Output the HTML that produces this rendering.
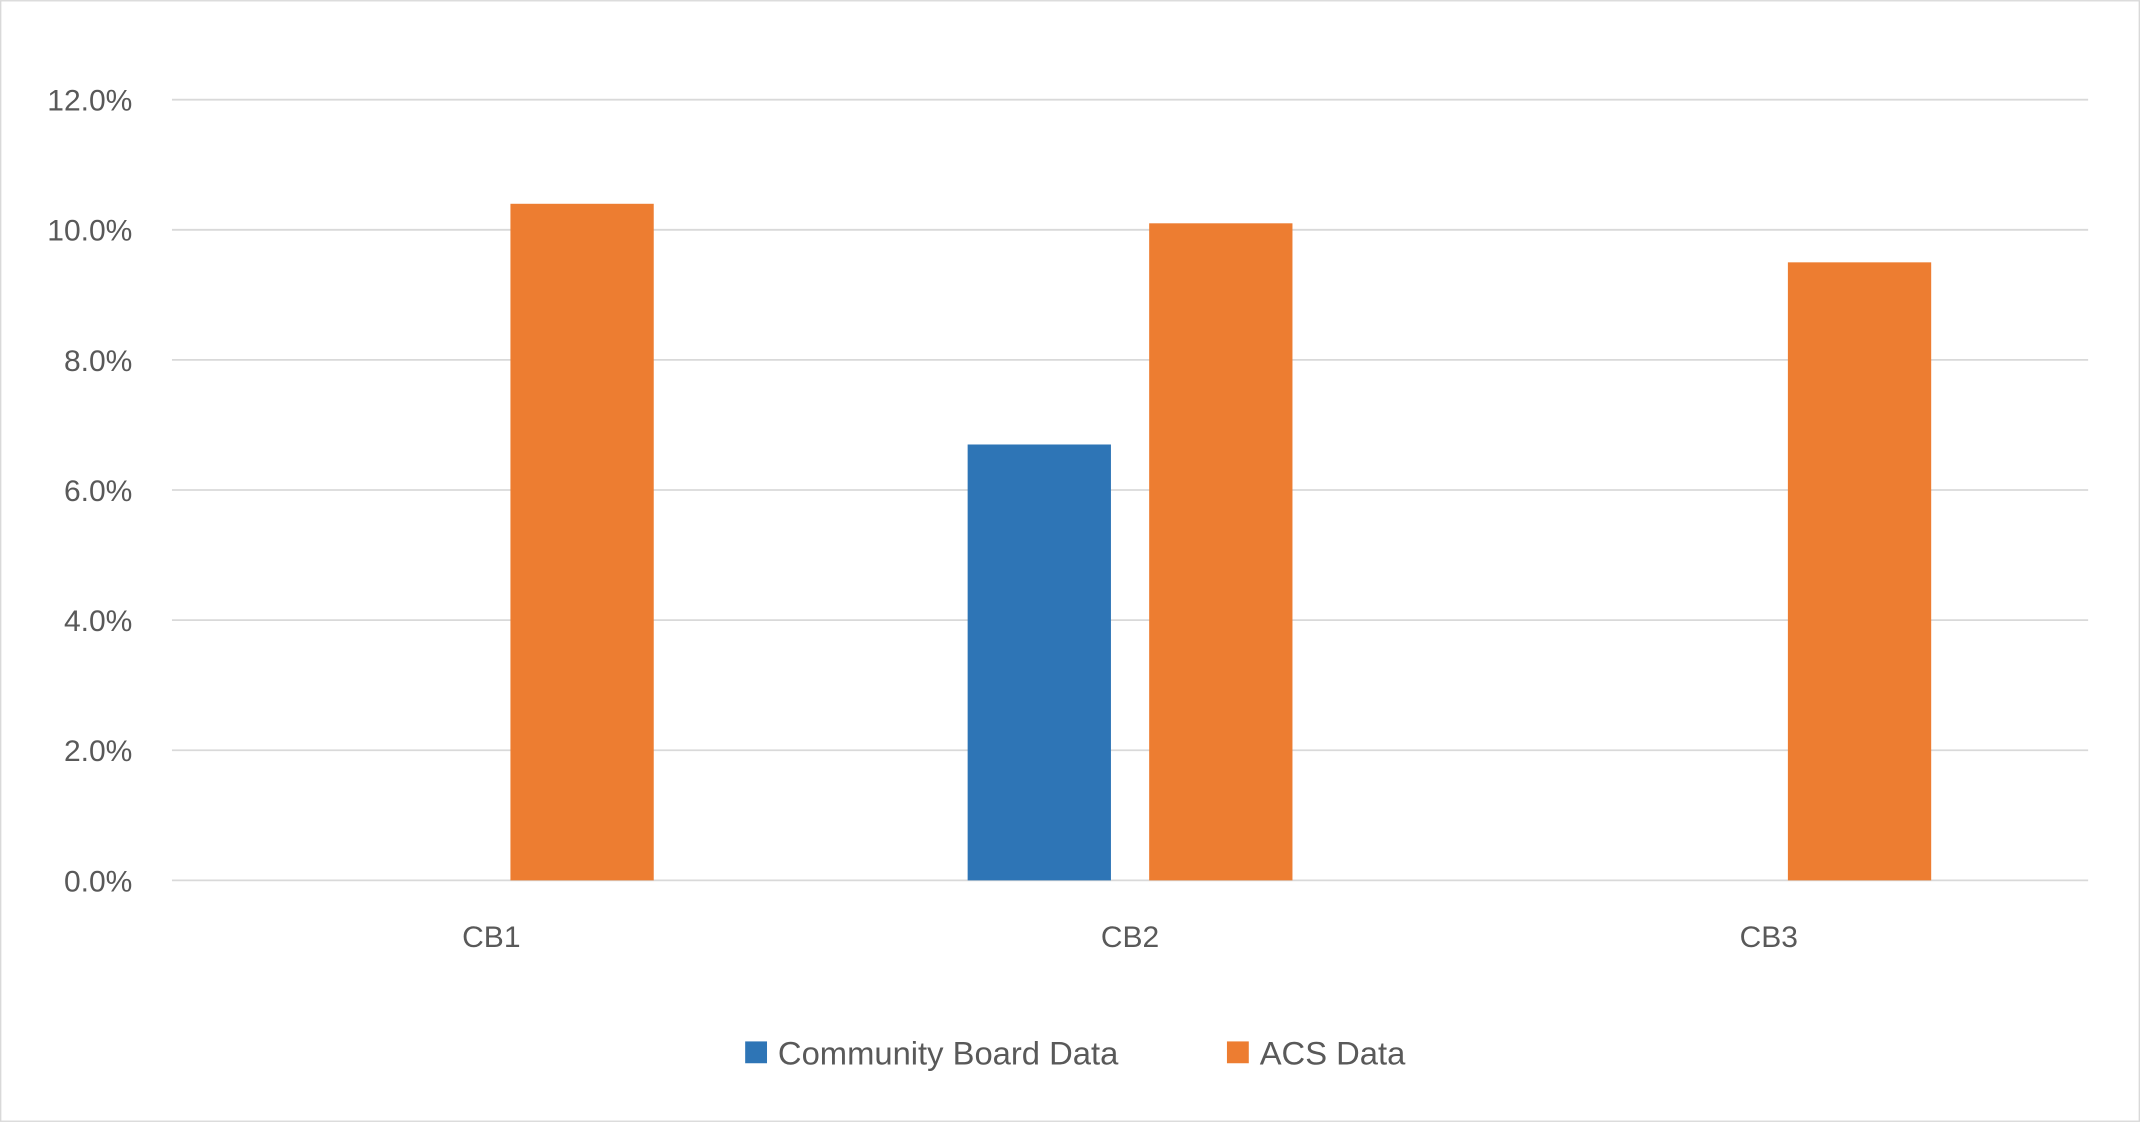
<!DOCTYPE html>
<html><head><meta charset="utf-8"><style>
html,body{margin:0;padding:0;background:#fff;}
svg{display:block;font-family:"Liberation Sans",sans-serif;}
</style></head><body>
<svg id="chart" width="2140" height="1122" viewBox="0 0 1568 822" xmlns="http://www.w3.org/2000/svg">
<rect x="0.5" y="0.5" width="1567" height="821" fill="#fff" stroke="#d9d9d9" stroke-width="1"/>
<g id="grid"></g><g id="bars"></g><g id="labels"></g>
<g>
<rect x="546" y="763" width="16" height="16" fill="#2e75b6"/>
<text x="570" y="780" font-size="24" fill="#595959">Community Board Data</text>
<rect x="899" y="763" width="16" height="16" fill="#ed7d31"/>
<text x="923" y="780" font-size="24" fill="#595959">ACS Data</text>
</g>
</svg>
<script>
const categories = ["CB1","CB2","CB3"];
const communityBoard = [null, 6.7, null];
const acs = [10.4, 10.1, 9.5];
const yTicks = [0,2,4,6,8,10,12];
const tickLabels = ["0.0%","2.0%","4.0%","6.0%","8.0%","10.0%","12.0%"];

const NS="http://www.w3.org/2000/svg";
const x0=126,x1=1530,yBase=645,yTop=73,yMax=12;
const y=v=>yBase-(v/yMax)*(yBase-yTop);
const bw=(x1-x0)/categories.length;
const cx=i=>x0+bw*(i+0.5);
function mk(tag,attrs,parent){const e=document.createElementNS(NS,tag);for(const k in attrs)e.setAttribute(k,attrs[k]);document.getElementById(parent).appendChild(e);return e;}
yTicks.forEach((t,i)=>{
  const l=mk("line",{x1:x0,x2:x1,y1:y(t),y2:y(t),stroke:"#d9d9d9","stroke-width":1.3},"grid");
  
  
  const tx=mk("text",{x:97,y:y(t)+8,"text-anchor":"end","font-size":22,fill:"#595959"},"labels");
  tx.textContent=tickLabels[i];
  
  
});
const barW=105,gap=28;
categories.forEach((c,i)=>{
  const t=mk("text",{x:cx(i),y:694,"text-anchor":"middle","font-size":22,fill:"#595959"},"labels");
  t.textContent=c;
  
  
  if(communityBoard[i]!=null){
    const b=mk("rect",{x:cx(i)-gap/2-barW,y:y(communityBoard[i]),width:barW,height:yBase-y(communityBoard[i]),fill:"#2e75b6"},"bars");
    
    
  }
  if(acs[i]!=null){
    const b=mk("rect",{x:cx(i)+gap/2,y:y(acs[i]),width:barW,height:yBase-y(acs[i]),fill:"#ed7d31"},"bars");
    
    
  }
});
</script>
</body></html>
